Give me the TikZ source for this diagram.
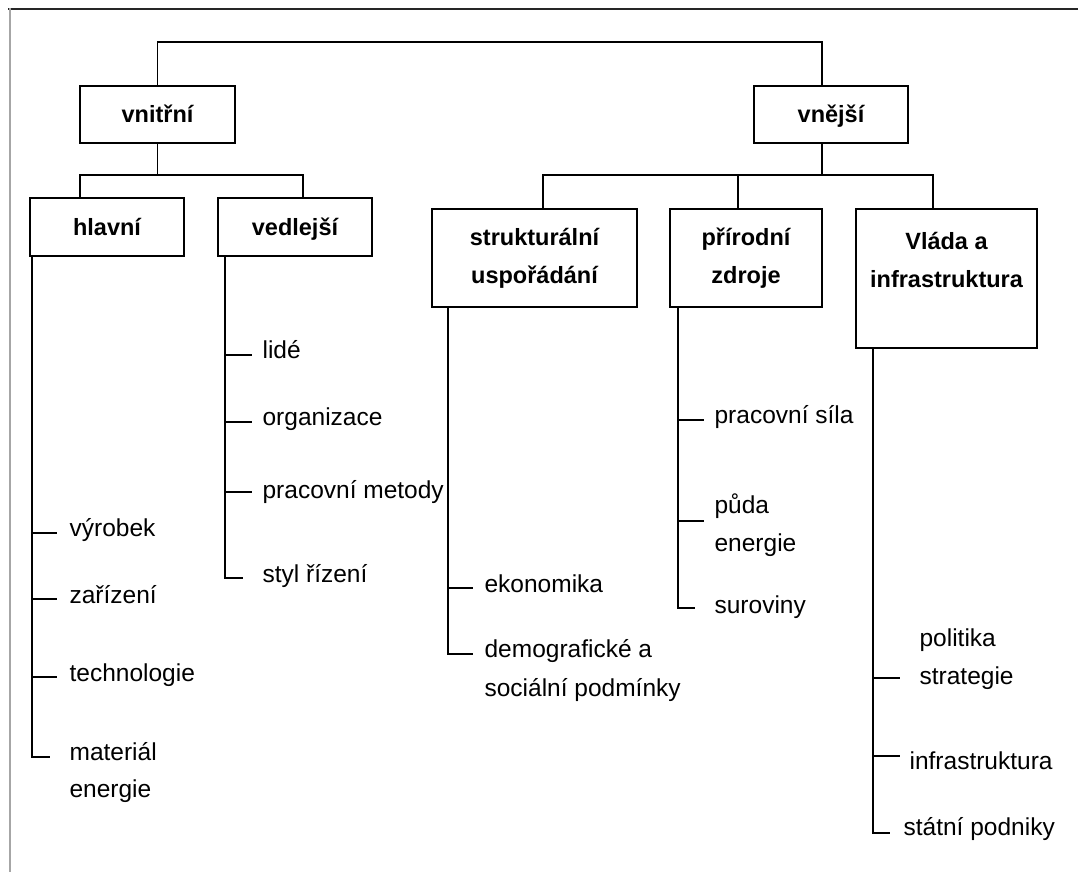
\documentclass[tikz,border=0pt]{standalone}
\usepackage{fontspec}
\setmainfont{Liberation Sans}
\begin{document}
\begin{tikzpicture}[x=1pt,y=-1pt,line width=1.2pt,
  box/.style={draw, line width=1.3pt, inner sep=0pt, align=center,
    font=\bfseries\fontsize{23.5}{38}\selectfont},
  onebox/.style={box, text height=18pt, text depth=1.8pt},
  leaf/.style={anchor=base west, inner sep=0pt, font=\fontsize{24.5}{38}\selectfont},
  frametop/.style={line width=2.4pt, black!85},
  frameleft/.style={line width=2.6pt, black!35}]
\useasboundingbox (0,0) rectangle (1078,872);
% frame
\draw[frametop] (8,9) -- (1078,9);
\draw[frameleft] (10,8) -- (10,872);

% boxes
\node[onebox, minimum width=155pt, minimum height=57pt] (vnitrni) at (157.5,114.5) {vnitřní};
\node[onebox, minimum width=154pt, minimum height=57pt] (vnejsi) at (831,114.5) {vnější};
\node[onebox, minimum width=154pt, minimum height=58pt] (hlavni) at (107,227) {hlavní};
\node[onebox, minimum width=154pt, minimum height=58pt] (vedlejsi) at (295,227) {vedlejší};
\node[box, minimum width=205pt, minimum height=98pt] (strukt) at (534.5,258) {strukturální\\uspořádání};
\node[box, minimum width=152pt, minimum height=98pt] (prirodni) at (746,258) {přírodní\\zdroje};
\node[box, minimum width=181pt, minimum height=139pt] (vlada) at (946.5,278.5) {Vláda a\\infrastruktura\\\mbox{}};

% top connectors
\coordinate (topL) at (157.5,42);
\coordinate (topR) at (822,42);
\draw (vnitrni.north) -- (topL) -- (topR) -- (topR |- vnejsi.north);

\coordinate (vnJ) at (157.5,175);
\draw (vnitrni.south) -- (vnJ);
\draw (80,198) -- (80,175) -- (303,175) -- (303,198);

\coordinate (veJ) at (822,175);
\draw (822,143) -- (veJ);
\draw (543,209) -- (543,175) -- (933,175) -- (933,209);
\draw (738,175) -- (738,209);

% leaves: hlavni
\node[leaf] (vyrobek) at (69,536) {výrobek};
\node[leaf] (zarizeni) at (69,603) {zařízení};
\node[leaf] (technologie) at (69,681) {technologie};
\node[leaf] (material) at (69,760) {materiál};
\node[leaf] (energieA) at (69,797) {energie};
\draw (32,256) -- (32,757) -- (50,757);
\draw (32,533) -- (57,533);
\draw (32,599) -- (57,599);
\draw (32,677) -- (57,677);

% leaves: vedlejsi
\node[leaf] (lide) at (262,358) {lidé};
\node[leaf] (organizace) at (262,425) {organizace};
\node[leaf] (metody) at (262,498) {pracovní metody};
\node[leaf] (styl) at (262,582) {styl řízení};
\draw (225,256) -- (225,578) -- (243,578);
\draw (225,355) -- (252,355);
\draw (225,422) -- (252,422);
\draw (225,492) -- (252,492);

% leaves: strukturalni
\node[leaf] (ekonomika) at (484,592) {ekonomika};
\node[leaf] (demo) at (484,657) {demografické a};
\node[leaf] (soc) at (484,696) {sociální podmínky};
\draw (448,307) -- (448,654) -- (473,654);
\draw (448,588) -- (473,588);

% leaves: prirodni
\node[leaf] (sila) at (714,423) {pracovní síla};
\node[leaf] (puda) at (714,513) {půda};
\node[leaf] (energieB) at (714,551) {energie};
\node[leaf] (suroviny) at (714,613) {suroviny};
\draw (678,307) -- (678,608) -- (695,608);
\draw (678,420) -- (704,420);
\draw (678,521) -- (704,521);

% leaves: vlada
\node[leaf] (politika) at (919,646) {politika};
\node[leaf] (strategie) at (919,684) {strategie};
\node[leaf] (infra) at (909,769) {infrastruktura};
\node[leaf] (statni) at (903,835) {státní podniky};
\draw (873,348) -- (873,833) -- (890,833);
\draw (873,678) -- (900,678);
\draw (873,756) -- (900,756);
\end{tikzpicture}
\end{document}
